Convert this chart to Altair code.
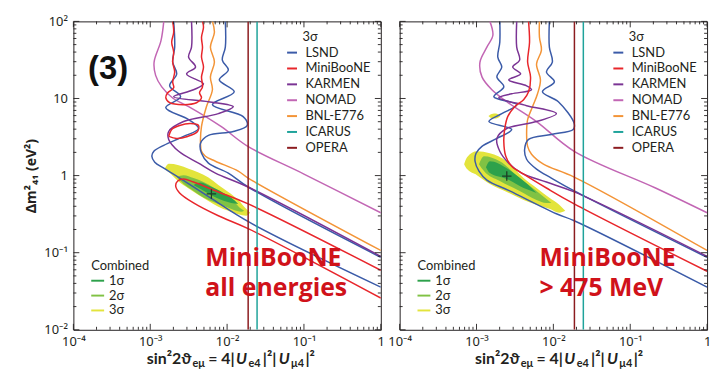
import altair as alt
import pandas as pd

# ---------------- experiments / colours ----------------
EXPS = ["LSND", "MiniBooNE", "KARMEN", "NOMAD", "BNL-E776", "ICARUS", "OPERA"]
EXP_COLORS = ["#3b5ba8", "#e8262b", "#7b3494", "#c266b4", "#f39437", "#1fa39b", "#8c1c20"]
SIGMAS = ["1σ", "2σ", "3σ"]
SIGMA_COLORS = ["#2da14b", "#80c244", "#e3e43c"]

X_TICKS = [1e-4, 1e-3, 1e-2, 1e-1, 1]
X_LABELS = ["10⁻⁴", "10⁻³", "10⁻²", "10⁻¹", "1"]
Y_TICKS = [1e-2, 1e-1, 1, 10, 100]
Y_LABELS = ["10⁻²", "10⁻¹", "1", "10", "10²"]

# ------------- curves, panel a (log10 sin²2θ, log10 Δm²) -------------
OPERA_LX = -1.726
ICARUS_LX = -1.61

A_NOMAD_LX = [-2.824, -2.86, -2.95, -2.93, -2.85, -2.70, -2.50, -2.08, -1.73, -1.0, 0.0]
A_NOMAD_LY = [2.0, 1.75, 1.47, 1.30, 1.15, 1.00, 0.894, 0.637, 0.379, 0.02, -0.482]

A_BNL_LX = [-2.191, -2.165, -2.217, -2.165, -2.217, -2.191, -2.269, -2.333, -2.346, -2.333, -2.282, -2.152, -1.855, -1.726, 0.0]
A_BNL_LY = [2.0, 1.859, 1.666, 1.473, 1.280, 1.113, 0.894, 0.637, 0.418, 0.315, 0.251, 0.186, 0.058, -0.032, -0.971]

A_LSND1_LX = [-2.695, -2.682, -2.708, -2.656, -2.747, -2.605, -2.798, -2.501, -2.372, -2.566, -2.824, -2.953, -2.979, -2.941, -2.824, -2.656, -2.217, -1.700, 0.0]
A_LSND1_LY = [2.0, 1.666, 1.473, 1.318, 1.164, 1.023, 0.881, 0.727, 0.611, 0.508, 0.392, 0.315, 0.251, 0.174, 0.096, -0.006, -0.289, -0.611, -1.447]

A_LSND2_LX = [-2.023, -2.023, -2.062, -1.984, -2.101, -1.907, -2.191, -1.791, -1.739, -1.920, -2.243, -2.346, -2.333, -2.243, -1.984, -1.726, 0.0]
A_LSND2_LY = [2.0, 1.666, 1.498, 1.370, 1.241, 1.087, 0.920, 0.765, 0.650, 0.572, 0.521, 0.418, 0.289, 0.161, 0.032, -0.148, -1.061]

A_KARMEN_LX = [-2.463, -2.463, -2.501, -2.411, -2.527, -2.307, -2.437, -2.695, -2.243, -1.920, -2.114, -2.566, -2.760, -2.760, -2.630, -2.372, -2.152, -1.726, 0.0]
A_KARMEN_LY = [2.0, 1.666, 1.537, 1.408, 1.318, 1.190, 1.113, 1.023, 0.958, 0.894, 0.804, 0.701, 0.572, 0.469, 0.315, 0.161, 0.032, -0.148, -1.048]

A_MB1_LX = [0.0, -1.726, -2.114, -2.437, -2.566, -2.643, -2.669, -2.618, -2.437, -2.114, -1.726, 0.0]
A_MB1_LY = [-1.228, -0.367, -0.212, -0.084, -0.045, -0.071, -0.135, -0.225, -0.354, -0.521, -0.688, -1.589]

A_MB2_LX = [-2.708, -2.695, -2.721, -2.695, -2.708, -2.682, -2.708, -2.695, -2.773, -2.798, -2.747, -2.566, -2.398, -2.333, -2.359, -2.320, -2.333, -2.307, -2.333, -2.320, -2.333, -2.307, -2.320]
A_MB2_LY = [2.0, 1.859, 1.730, 1.601, 1.473, 1.344, 1.215, 1.138, 1.074, 1.010, 0.945, 0.920, 0.945, 1.010, 1.074, 1.151, 1.280, 1.408, 1.537, 1.666, 1.794, 1.923, 2.0]

A_MB3_LX = [-2.760, -2.721, -2.618, -2.475, -2.372, -2.385, -2.514, -2.656, -2.760]
A_MB3_LY = [0.508, 0.598, 0.650, 0.675, 0.650, 0.572, 0.508, 0.482, 0.508]

# ------------- curves, panel b -------------
B_NOMAD_LX = [-2.826, -2.787, -2.865, -2.955, -2.929, -2.800, -2.606, -2.219, -1.729, -0.671, 0.0]
B_NOMAD_LY = [2.0, 1.820, 1.666, 1.473, 1.280, 1.113, 0.958, 0.701, 0.315, -0.161, -0.482]

B_LSND1_LX = [-2.697, -2.697, -2.723, -2.671, -2.735, -2.645, -2.774, -2.477, -2.671, -2.839, -2.542, -2.735, -2.929, -3.006, -3.019, -2.968, -2.865, -2.568, -1.961, -1.729, 0.0]
B_LSND1_LY = [2.0, 1.730, 1.537, 1.408, 1.280, 1.151, 1.023, 0.920, 0.804, 0.701, 0.598, 0.482, 0.379, 0.289, 0.186, 0.058, -0.058, -0.199, -0.495, -0.585, -1.447]

B_LSND2_LX = [-2.052, -2.052, -2.013, -2.090, -1.987, -2.142, -1.935, -1.729, -1.742, -2.026, -2.323, -2.374, -2.348, -2.219, -2.026, -1.729, 0.0]
B_LSND2_LY = [2.0, 1.666, 1.473, 1.344, 1.215, 1.087, 0.958, 0.675, 0.598, 0.534, 0.469, 0.341, 0.212, 0.084, -0.032, -0.199, -1.061]

B_KARMEN_LX = [-2.477, -2.477, -2.439, -2.529, -2.426, -2.581, -2.348, -2.284, -2.542, -2.710, -2.348, -1.961, -2.219, -2.606, -2.735, -2.697, -2.581, -2.413, -2.090, -1.729, 0.0]
B_KARMEN_LY = [2.0, 1.666, 1.498, 1.408, 1.318, 1.241, 1.164, 1.113, 1.061, 1.010, 0.907, 0.804, 0.701, 0.611, 0.482, 0.315, 0.161, 0.032, -0.084, -0.212, -1.048]

B_MB_LX = [-2.323, -2.310, -2.335, -2.297, -2.323, -2.387, -2.503, -2.594, -2.632, -2.645, -2.619, -2.542, -2.387, -2.090, -1.729, 0.0]
B_MB_LY = [2.0, 1.730, 1.473, 1.280, 1.087, 0.984, 0.894, 0.765, 0.611, 0.444, 0.251, 0.122, 0.019, -0.161, -0.367, -1.241]

B_BNL_LX = [-2.181, -2.181, -2.155, -2.219, -2.168, -2.206, -2.271, -2.335, -2.348, -2.335, -2.284, -2.129, -1.729, 0.0]
B_BNL_LY = [2.0, 1.794, 1.627, 1.447, 1.241, 1.061, 0.894, 0.727, 0.547, 0.379, 0.277, 0.148, -0.019, -0.971]

# ------------- combined allowed regions (log10) -------------
A_3S_LX = [-2.811, -2.760, -2.630, -2.501, -2.372, -2.243, -2.114, -1.984, -1.855, -1.752, -1.700]
A_3S_TOP = [0.09, 0.152, 0.135, 0.090, 0.039, -0.026, -0.122, -0.212, -0.315, -0.431, -0.482]
A_3S_BOT = [0.09, 0.045, -0.077, -0.167, -0.251, -0.328, -0.405, -0.457, -0.502, -0.521, -0.482]
A_2S_LX = [-2.656, -2.566, -2.437, -2.307, -2.178, -2.049, -1.920, -1.817, -1.778]
A_2S_TOP = [-0.019, 0.006, -0.032, -0.084, -0.154, -0.238, -0.328, -0.431, -0.457]
A_2S_BOT = [-0.019, -0.109, -0.199, -0.283, -0.341, -0.392, -0.444, -0.470, -0.457]
A_1S_LX = [-2.437, -2.346, -2.243, -2.140, -2.036, -1.946, -1.855]
A_1S_TOP = [-0.122, -0.090, -0.129, -0.174, -0.231, -0.289, -0.367]
A_1S_BOT = [-0.122, -0.174, -0.231, -0.289, -0.328, -0.354, -0.367]
A_BEST = (-2.204, -0.238)

B_3S_LX = [-3.161, -3.123, -2.994, -2.826, -2.606, -2.387, -2.219, -2.052, -1.923, -1.845]
B_3S_TOP = [0.148, 0.238, 0.315, 0.289, 0.186, -0.032, -0.161, -0.289, -0.379, -0.457]
B_3S_BOT = [0.148, 0.084, 0.006, -0.109, -0.212, -0.315, -0.379, -0.431, -0.482, -0.457]
B_3SI_LX = [-2.845, -2.800, -2.748, -2.690]
B_3SI_TOP = [0.772, 0.800, 0.804, 0.772]
B_3SI_BOT = [0.772, 0.742, 0.740, 0.772]
B_2S_LX = [-2.968, -2.903, -2.697, -2.439, -2.219, -2.090, -2.026]
B_2S_TOP = [0.148, 0.251, 0.186, -0.032, -0.199, -0.302, -0.354]
B_2S_BOT = [0.148, 0.058, -0.071, -0.199, -0.315, -0.354, -0.354]
B_1S_LX = [-2.877, -2.826, -2.606, -2.387, -2.284, -2.219]
B_1S_TOP = [0.109, 0.186, 0.096, -0.071, -0.161, -0.225]
B_1S_BOT = [0.109, 0.032, -0.045, -0.161, -0.199, -0.225]
B_BEST = (-2.606, -0.006)

# ---------------- build tables ----------------
LINE_SEGS = [
    ("a", "NOMAD", "nomad", A_NOMAD_LX, A_NOMAD_LY),
    ("a", "BNL-E776", "bnl", A_BNL_LX, A_BNL_LY),
    ("a", "LSND", "lsnd1", A_LSND1_LX, A_LSND1_LY),
    ("a", "LSND", "lsnd2", A_LSND2_LX, A_LSND2_LY),
    ("a", "KARMEN", "karmen", A_KARMEN_LX, A_KARMEN_LY),
    ("a", "MiniBooNE", "mb1", A_MB1_LX, A_MB1_LY),
    ("a", "MiniBooNE", "mb2", A_MB2_LX, A_MB2_LY),
    ("a", "MiniBooNE", "mb3", A_MB3_LX, A_MB3_LY),
    ("a", "OPERA", "opera", [OPERA_LX, OPERA_LX], [-2.0, 2.0]),
    ("a", "ICARUS", "icarus", [ICARUS_LX, ICARUS_LX], [-2.0, 2.0]),
    ("b", "NOMAD", "nomad", B_NOMAD_LX, B_NOMAD_LY),
    ("b", "BNL-E776", "bnl", B_BNL_LX, B_BNL_LY),
    ("b", "LSND", "lsnd1", B_LSND1_LX, B_LSND1_LY),
    ("b", "LSND", "lsnd2", B_LSND2_LX, B_LSND2_LY),
    ("b", "KARMEN", "karmen", B_KARMEN_LX, B_KARMEN_LY),
    ("b", "MiniBooNE", "mb", B_MB_LX, B_MB_LY),
    ("b", "OPERA", "opera", [OPERA_LX, OPERA_LX], [-2.0, 2.0]),
    ("b", "ICARUS", "icarus", [ICARUS_LX, ICARUS_LX], [-2.0, 2.0]),
]
rows = []
for p, e, s, lx, ly in LINE_SEGS:
    for i, (u, v) in enumerate(zip(lx, ly)):
        rows.append(dict(panel=p, exp=e, seg=s, i=i, x=10 ** u, y=10 ** v))
lines_df = pd.DataFrame(rows)

REGIONS = [
    ("a", "3σ", "main", A_3S_LX, A_3S_TOP, A_3S_BOT),
    ("a", "2σ", "main", A_2S_LX, A_2S_TOP, A_2S_BOT),
    ("a", "1σ", "main", A_1S_LX, A_1S_TOP, A_1S_BOT),
    ("b", "3σ", "main", B_3S_LX, B_3S_TOP, B_3S_BOT),
    ("b", "3σ", "island", B_3SI_LX, B_3SI_TOP, B_3SI_BOT),
    ("b", "2σ", "main", B_2S_LX, B_2S_TOP, B_2S_BOT),
    ("b", "1σ", "main", B_1S_LX, B_1S_TOP, B_1S_BOT),
]
rows = []
for p, sg, part, lx, top, bot in REGIONS:
    for u, t, b in zip(lx, top, bot):
        rows.append(dict(panel=p, sigma=sg, part=part, x=10 ** u, ylo=10 ** b, yhi=10 ** t))
regions_df = pd.DataFrame(rows)

X_MINOR = [k * t for t in X_TICKS[:-1] for k in range(2, 10)]
Y_MINOR = [k * t for t in Y_TICKS[:-1] for k in range(2, 10)]

# ---------------- styling ----------------
FONT = "Lato"
TFONT = "Noto Sans"
NFONT = "Open Sans"
INK = "#231f20"
RED = "#d0121a"
W, H = 310, 311
ONE = pd.DataFrame({"k": [0]})

XLBL = "[" + ",".join("'%s'" % s for s in X_LABELS) + "][round(log(datum.value)/LN10)+4]"
YLBL = "[" + ",".join("'%s'" % s for s in Y_LABELS) + "][round(log(datum.value)/LN10)+2]"

TITLE_PARTS = [  # text, x-offset, size, style, dy
    ("sin²2ϑ", 0, 16, "normal", 0),
    ("eμ", 46, 11, "normal", 3.5),
    ("= 4|", 62, 16, "normal", 0),
    ("U", 90, 16, "italic", 0),
    ("e4", 102.5, 11, "normal", 3.5),
    ("|²|", 117, 16, "normal", 0),
    ("U", 133, 16, "italic", 0),
    ("μ4", 145.5, 11, "normal", 3.5),
    ("|²", 160, 16, "normal", 0),
]


def text_layer(s, x, y, size=13, weight="normal", color=INK, align="left",
               baseline="alphabetic", style="normal", font=FONT):
    return alt.Chart(ONE).mark_text(
        text=s, align=align, baseline=baseline, font=font, fontSize=size,
        fontWeight=weight, fontStyle=style, color=color
    ).encode(x=alt.value(x), y=alt.value(y))


def panel(p, note1, note2, note_x, title_x):
    xs = alt.Scale(type="log", domain=[1e-4, 1], nice=False)
    ys = alt.Scale(type="log", domain=[1e-2, 1e2], nice=False)
    xaxis = alt.Axis(values=X_TICKS, labelExpr=XLBL, ticks=False, domain=False, grid=False,
                     labelFlush=False, labelOverlap=False, labelPadding=6, labelFontSize=13,
                     labelFont=TFONT, labelColor=INK, title=None)
    if p == "a":
        yaxis = alt.Axis(values=Y_TICKS, labelExpr=YLBL, ticks=False, domain=False, grid=False,
                         labelFlush=False, labelOverlap=False, labelPadding=6, labelFontSize=13,
                         labelFont=TFONT, labelColor=INK, titleFont=TFONT,
                         titleFontSize=14, titleFontWeight="bold", titleColor=INK, titlePadding=5)
    else:
        yaxis = None

    def X(field):
        return alt.X(field, scale=xs, axis=xaxis, title=None)

    def Y(field):
        if yaxis is None:
            return alt.Y(field, scale=ys, axis=None)
        return alt.Y(field, scale=ys, axis=yaxis, title="Δm²₄₁ (eV²)")

    fill_scale = alt.Scale(domain=SIGMAS, range=SIGMA_COLORS)
    fill_legend = alt.Legend(title="Combined", orient="none", legendX=18, legendY=241,
                             symbolType="M-1,-0.15L1,-0.15L1,0.15L-1,0.15Z", symbolSize=169,
                             symbolStrokeWidth=0, labelFont=FONT, labelFontSize=13, labelColor=INK,
                             titleFont=FONT, titleFontSize=13, titleFontWeight="normal",
                             titleColor=INK, titlePadding=1, rowPadding=1, labelOffset=5)
    layers = []
    reg = regions_df[regions_df.panel == p]
    for sg in ["3σ", "2σ", "1σ"]:
        layers.append(
            alt.Chart(reg[reg.sigma == sg]).mark_area(clip=True, interpolate="monotone").encode(
                x=X("x:Q"),
                y=Y("ylo:Q"),
                y2="yhi:Q",
                fill=alt.Fill("sigma:N", scale=fill_scale, legend=fill_legend),
                detail="part:N",
            )
        )

    color_legend = alt.Legend(title=None, orient="none", legendX=214, legendY=25,
                              symbolType="stroke", symbolSize=100, symbolStrokeWidth=2,
                              labelFont=FONT, labelFontSize=13, labelColor=INK,
                              rowPadding=2, labelOffset=7)
    layers.append(
        alt.Chart(lines_df[lines_df.panel == p]).mark_line(
            clip=True, strokeWidth=1.5, interpolate="catmull-rom"
        ).encode(
            x=X("x:Q"),
            y=Y("y:Q"),
            color=alt.Color("exp:N", scale=alt.Scale(domain=EXPS, range=EXP_COLORS), legend=color_legend),
            detail="seg:N",
            order="i:Q",
        )
    )
    best = A_BEST if p == "a" else B_BEST
    layers.append(
        alt.Chart(pd.DataFrame({"x": [10 ** best[0]], "y": [10 ** best[1]]})).mark_point(
            shape="M-1,0L1,0M0,-1L0,1", filled=False, size=90, strokeWidth=1.3, color="#1f3d26", opacity=1
        ).encode(x=X("x:Q"), y=Y("y:Q"))
    )

    # inward ticks on all four sides
    for vals, size in [(X_TICKS, 6), (X_MINOR, 3)]:
        df = pd.DataFrame({"x": vals})
        layers.append(alt.Chart(df).mark_rule(color=INK, strokeWidth=0.9).encode(
            x=X("x:Q"), y=alt.value(H), y2=alt.value(H - size)))
        layers.append(alt.Chart(df).mark_rule(color=INK, strokeWidth=0.9).encode(
            x=X("x:Q"), y=alt.value(0), y2=alt.value(size)))
    for vals, size in [(Y_TICKS, 6), (Y_MINOR, 3)]:
        df = pd.DataFrame({"y": vals})
        layers.append(alt.Chart(df).mark_rule(color=INK, strokeWidth=0.9).encode(
            y=Y("y:Q"), x=alt.value(0), x2=alt.value(size)))
        layers.append(alt.Chart(df).mark_rule(color=INK, strokeWidth=0.9).encode(
            y=Y("y:Q"), x=alt.value(W), x2=alt.value(W - size)))

    # legend header, annotations
    layers.append(text_layer("3σ", 231, 15.5, baseline="middle"))
    layers.append(text_layer(note1, note_x, 247, size=25, weight="bold", color=RED, font=NFONT))
    layers.append(text_layer(note2, note_x, 277, size=25, weight="bold", color=RED, font=NFONT))
    if p == "a":
        layers.append(text_layer("(3)", 35, 48, size=33, weight="bold", color="#111111",
                                 align="center", baseline="middle", font="Liberation Sans"))
    # x-axis title built from pieces (sub-scripts)
    for s, off, size, style, dy in TITLE_PARTS:
        layers.append(text_layer(s, title_x + off, 345 + dy, size=size, weight="bold", style=style))

    return alt.layer(*layers).properties(width=W, height=H)


left = panel("a", "MiniBooNE", "all energies", 133, 74)
right = panel("b", "MiniBooNE", "> 475 MeV", 141, 76)

chart = alt.hconcat(left, right, spacing=19, bounds="flush").resolve_scale(
    x="independent", y="independent", color="independent", fill="independent"
).properties(
    padding={"left": 24, "top": 13, "right": 4, "bottom": 2},
    background="white",
).configure_view(stroke=INK, strokeWidth=1)

chart.save("out.html", embed_options={"renderer": "svg", "actions": False})
